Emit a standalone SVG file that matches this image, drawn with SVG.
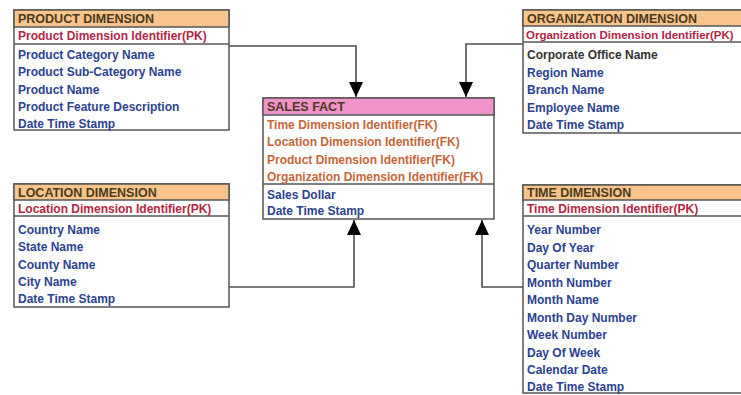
<svg xmlns="http://www.w3.org/2000/svg" width="741" height="395" viewBox="0 0 741 395">
  <style>
    .box { fill: #ffffff; stroke: #555555; stroke-width: 1.5; }
    .hdr { fill: #F9C48C; stroke: #555555; stroke-width: 1.5; }
    .hdr-fact { fill: #F292CA; stroke: #555555; stroke-width: 1.5; }
    .sep { stroke: #555555; stroke-width: 1.5; fill: none; }
    text { font-family: "Liberation Sans", Arial, sans-serif; font-weight: bold; font-size: 12px; }
    .title { fill: #4A3A1E; font-size: 12.5px; }
    .pk { fill: #B52644; }
    .fk { fill: #C4673A; }
    .attr { fill: #2C4290; }
    .dark { fill: #333333; }
    .conn { stroke: #4d4d4d; stroke-width: 1.6; fill: none; }
  </style>
  <defs>
    <marker id="arrow" markerUnits="userSpaceOnUse" markerWidth="16" markerHeight="16" viewBox="0 0 16 16" refX="15" refY="8" orient="auto">
      <path d="M0,1 L15,8 L0,15 Z" fill="#000000"/>
    </marker>
  </defs>

  <rect width="741" height="395" fill="#ffffff"/>

  <!-- connectors between dimension tables and the fact table -->
  <g id="connectors">
    <polyline class="conn" points="229,46 356,46 356,97" marker-end="url(#arrow)"/>
    <polyline class="conn" points="523,44 466,44 466,97" marker-end="url(#arrow)"/>
    <polyline class="conn" points="229,287 354,287 354,220" marker-end="url(#arrow)"/>
    <polyline class="conn" points="523,287 482,287 482,220" marker-end="url(#arrow)"/>
  </g>

  <!-- Product dimension -->
  <g id="product-dimension">
    <rect class="box" x="14" y="10" width="215" height="120"/>
    <rect class="hdr" x="14" y="10" width="215" height="17"/>
    <line class="sep" x1="14" y1="44" x2="229" y2="44"/>
    <text class="title" x="18" y="23">PRODUCT DIMENSION</text>
    <text class="pk" x="18" y="39.5">Product Dimension Identifier(PK)</text>
    <text class="attr" x="18" y="59">Product Category Name</text>
    <text class="attr" x="18" y="76.3">Product Sub-Category Name</text>
    <text class="attr" x="18" y="93.6">Product Name</text>
    <text class="attr" x="18" y="110.9">Product Feature Description</text>
    <text class="attr" x="18" y="128.2">Date Time Stamp</text>
  </g>

  <!-- Organization dimension -->
  <g id="organization-dimension">
    <rect class="box" x="523" y="10" width="230" height="123"/>
    <rect class="hdr" x="523" y="10" width="230" height="16"/>
    <line class="sep" x1="523" y1="42" x2="753" y2="42"/>
    <text class="title" x="527" y="22.5">ORGANIZATION DIMENSION</text>
    <text class="pk" x="526" y="38.5" style="font-size:11.5px">Organization Dimension Identifier(PK)</text>
    <text class="dark" x="527" y="59">Corporate Office Name</text>
    <text class="attr" x="527" y="76.5">Region Name</text>
    <text class="attr" x="527" y="94">Branch Name</text>
    <text class="attr" x="527" y="111.5">Employee Name</text>
    <text class="attr" x="527" y="129">Date Time Stamp</text>
  </g>

  <!-- Sales fact -->
  <g id="sales-fact">
    <rect class="box" x="263" y="98" width="231" height="121"/>
    <rect class="hdr-fact" x="263" y="98" width="231" height="17"/>
    <line class="sep" x1="263" y1="184" x2="494" y2="184"/>
    <text class="title" x="267" y="111">SALES FACT</text>
    <text class="fk" x="267" y="129">Time Dimension Identifier(FK)</text>
    <text class="fk" x="267" y="146.3">Location Dimension Identifier(FK)</text>
    <text class="fk" x="267" y="163.6">Product Dimension Identifier(FK)</text>
    <text class="fk" x="267" y="180.9">Organization Dimension Identifier(FK)</text>
    <text class="attr" x="267" y="198.5">Sales Dollar</text>
    <text class="attr" x="267" y="215">Date Time Stamp</text>
  </g>

  <!-- Location dimension -->
  <g id="location-dimension">
    <rect class="box" x="14" y="184" width="215" height="123"/>
    <rect class="hdr" x="14" y="184" width="215" height="16"/>
    <line class="sep" x1="14" y1="216" x2="229" y2="216"/>
    <text class="title" x="18" y="197">LOCATION DIMENSION</text>
    <text class="pk" x="18" y="212.5">Location Dimension Identifier(PK)</text>
    <text class="attr" x="18" y="234">Country Name</text>
    <text class="attr" x="18" y="251.3">State Name</text>
    <text class="attr" x="18" y="268.6">County Name</text>
    <text class="attr" x="18" y="285.9">City Name</text>
    <text class="attr" x="18" y="303.2">Date Time Stamp</text>
  </g>

  <!-- Time dimension -->
  <g id="time-dimension">
    <rect class="box" x="523" y="185" width="230" height="208"/>
    <rect class="hdr" x="523" y="185" width="230" height="15"/>
    <line class="sep" x1="523" y1="216" x2="753" y2="216"/>
    <text class="title" x="527" y="197">TIME DIMENSION</text>
    <text class="pk" x="527" y="212.5">Time Dimension Identifier(PK)</text>
    <text class="attr" x="527" y="234">Year Number</text>
    <text class="attr" x="527" y="251.5">Day Of Year</text>
    <text class="attr" x="527" y="269">Quarter Number</text>
    <text class="attr" x="527" y="286.5">Month Number</text>
    <text class="attr" x="527" y="304">Month Name</text>
    <text class="attr" x="527" y="321.5">Month Day Number</text>
    <text class="attr" x="527" y="339">Week Number</text>
    <text class="attr" x="527" y="356.5">Day Of Week</text>
    <text class="attr" x="527" y="374">Calendar Date</text>
    <text class="attr" x="527" y="391">Date Time Stamp</text>
  </g>
</svg>
